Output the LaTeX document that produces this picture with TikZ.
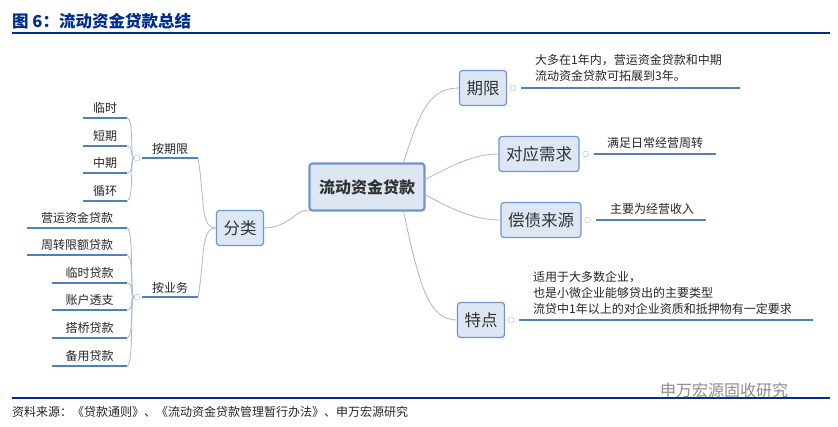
\documentclass[tikz,border=0pt]{standalone}
\usepackage{fontspec}
\setmainfont{Noto Sans CJK SC}
\begin{document}
\begin{tikzpicture}[x=1pt,y=-1pt,
  box/.style={draw=boxb,fill=boxf,rounded corners=3pt,line width=1.2pt,minimum height=35pt,inner xsep=7pt,font=\fontsize{16.5}{18}\selectfont,text=black!80},
  lbl/.style={font=\fontsize{12}{16}\selectfont,text=black!85,inner sep=0pt,align=left},
  ul/.style={draw=ulb,line width=1.5pt},
  con/.style={draw=conb,line width=0.8pt},
  mk/.style={circle,draw=conb,fill=white,inner sep=0pt,minimum size=6pt}]
\definecolor{boxb}{RGB}{110,150,205}
\definecolor{boxf}{RGB}{221,231,244}
\definecolor{ulb}{RGB}{79,129,189}
\definecolor{conb}{RGB}{165,185,215}
\definecolor{tb}{RGB}{0,45,140}
\useasboundingbox (0,0) rectangle (838,427);
\fill[white] (0,0) rectangle (838,427);
% title
\node[anchor=west,inner sep=0pt,text=tb,font=\fontsize{16.5}{18}\selectfont\bfseries] (title) at (12,21) {图 6：流动资金贷款总结};
\draw[tb,line width=1.6pt] (12,33) -- (830,33);
\draw[tb,line width=1.2pt] (12,398) -- (830,398);
\node[anchor=west,inner sep=0pt,font=\fontsize{12}{14}\selectfont,text=black!85] (src) at (12,412) {资料来源：《贷款通则》、《流动资金贷款管理暂行办法》、申万宏源研究};
\node[anchor=west,inner sep=0pt,font=\fontsize{16}{18}\selectfont,text=black!45] (wm) at (660,390) {申万宏源固收研究};
% central
\node[box,line width=2.2pt,minimum width=115pt,minimum height=47pt,font=\fontsize{16}{18}\selectfont\bfseries] (c) at (367,187) {流动资金贷款};
\node[box] (qx) at (483,88) {期限};
\node[box] (dy) at (539,154) {对应需求};
\node[box] (cz) at (541,220) {偿债来源};
\node[box] (td) at (481,320) {特点};
\node[box] (fl) at (240,228) {分类};
% central connectors
\draw[con] (c.north east) ++(-22,0) .. controls (420,110) and (430,88) .. (qx.west);
\draw[con] (c.east) ++(0,-8) .. controls (445,170) and (470,154) .. (dy.west);
\draw[con] (c.east) ++(0,8) .. controls (445,205) and (470,220) .. (cz.west);
\draw[con] (c.south east) ++(-22,0) .. controls (420,290) and (430,320) .. (td.west);
\draw[con] (fl.east) .. controls (290,228) and (300,205) .. (c.south west);
% right details
\foreach \b/\y/\e in {qx/88/740, dy/154/716, cz/220/706, td/320/813}{
  \node[mk] (m\b) at ([xshift=6pt]\b.east) {};
  \draw[ul] (m\b.east) ++(5,0) -- (\e,\y);
}
\node[lbl,anchor=south west] (t1) at (535,82) {大多在1年内，营运资金贷款和中期\\流动资金贷款可拓展到3年。};
\node[lbl,anchor=south west] (t2) at (607,149) {满足日常经营周转};
\node[lbl,anchor=south west] (t3) at (610,215) {主要为经营收入};
\node[lbl,anchor=south west] (t4) at (533,315) {适用于大多数企业，\\也是小微企业能够贷出的主要类型\\流贷中1年以上的对企业资质和抵押物有一定要求};
% left
\coordinate (a1) at (198,158);
\coordinate (a2) at (198,297);
\draw[con] (fl.west) .. controls (200,228) and (205,200) .. (a1);
\draw[con] (fl.west) .. controls (200,228) and (205,260) .. (a2);
\draw[ul] (142,158) -- (a1);
\draw[ul] (142,297) -- (a2);
\node[lbl,anchor=south] (aq) at (170,155) {按期限};
\node[lbl,anchor=south] (ay) at (170,294) {按业务};
\node[mk] (mq) at (137,158) {};
\node[mk] (my) at (137,297) {};
\foreach \t/\y/\xl [count=\i] in {临时/118/83,短期/146/83,中期/173/83,循环/201/83}{
  \coordinate (q\i) at (127,\y);
  \draw[ul] (\xl,\y) -- (q\i);
  \node[lbl,anchor=south] (qt\i) at (105,\y-4) {\t};
  \draw[con] (mq.west) .. controls (130,158) and (134,\y) .. (q\i);
}
\foreach \t/\y/\xl [count=\i] in {营运资金贷款/228/27,周转限额贷款/255/27,临时贷款/283/52,账户透支/310/52,搭桥贷款/338/52,备用贷款/366/52}{
  \coordinate (b\i) at (127,\y);
  \draw[ul] (\xl,\y) -- (b\i);
  \node[lbl,anchor=south] (bt\i) at ({(\xl+127)/2},\y-4) {\t};
  \draw[con] (my.west) .. controls (130,297) and (134,\y) .. (b\i);
}
\end{tikzpicture}
\end{document}
